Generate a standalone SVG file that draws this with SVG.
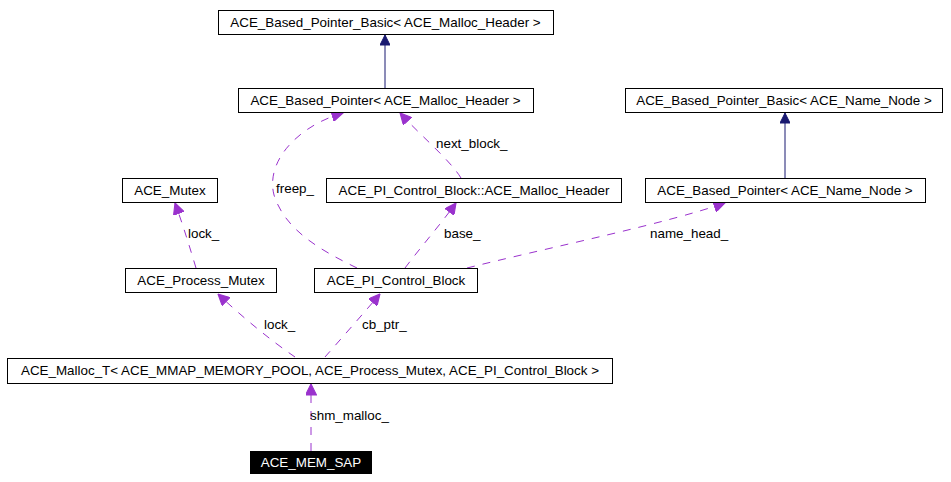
<svg xmlns="http://www.w3.org/2000/svg" width="951" height="482" viewBox="0 0 951 482">
<style>
  .box { fill: #ffffff; stroke: #000000; stroke-width: 1; }
  .t { font-family: "Liberation Sans", Arial, sans-serif; font-size: 13.4px; fill: #000000; text-anchor: middle; }
  .lbl { font-family: "Liberation Sans", Arial, sans-serif; font-size: 13.4px; fill: #000000; }
  .inh { fill: none; stroke: #191970; stroke-width: 1; }
  .use { fill: none; stroke: #9a32cd; stroke-width: 1; stroke-dasharray: 8,8; }
</style>
<defs>
  <marker id="ah" viewBox="0 0 10 10" refX="10" refY="5" markerWidth="11" markerHeight="10" markerUnits="userSpaceOnUse" orient="auto">
    <path d="M0,0 L10,5 L0,10 z" fill="#191970" stroke="#191970"/>
  </marker>
  <marker id="ap" viewBox="0 0 10 10" refX="10" refY="5" markerWidth="12" markerHeight="11" markerUnits="userSpaceOnUse" orient="auto">
    <path d="M0,0 L10,5 L0,10 z" fill="#9a32cd" stroke="#9a32cd"/>
  </marker>
</defs>
<rect width="951" height="482" fill="#ffffff"/>
<g id="connectors">
  <line class="inh" x1="385" y1="88" x2="385" y2="35" marker-end="url(#ah)"/>
  <line class="inh" x1="785" y1="178" x2="785" y2="113" marker-end="url(#ah)"/>
  <path class="use" d="M357,268 C320,250 285,230 274,195 C265,160 300,125 343,113" marker-end="url(#ap)"/>
  <path class="use" d="M461,178 C450,160 420,135 400,113" marker-end="url(#ap)"/>
  <path class="use" d="M405,268 C420,248 440,225 456,203" marker-end="url(#ap)"/>
  <path class="use" d="M467,268 C560,245 660,225 725,203" marker-end="url(#ap)"/>
  <path class="use" d="M196,268 C190,248 183,225 175,203" marker-end="url(#ap)"/>
  <path class="use" d="M295,357 C270,340 240,315 218,294" marker-end="url(#ap)"/>
  <path class="use" d="M325,357 C340,340 362,315 380,294" marker-end="url(#ap)"/>
  <line class="use" x1="311" y1="451" x2="311" y2="384" marker-end="url(#ap)"/>
  <text class="lbl" x="276" y="193">freep_</text>
  <text class="lbl" x="436" y="148">next_block_</text>
  <text class="lbl" x="188" y="238">lock_</text>
  <text class="lbl" x="444" y="238">base_</text>
  <text class="lbl" x="650" y="238">name_head_</text>
  <text class="lbl" x="264" y="329">lock_</text>
  <text class="lbl" x="362" y="329">cb_ptr_</text>
  <text class="lbl" x="310" y="420">shm_malloc_</text>
</g>
<g id="n1"><rect class="box" x="218.5" y="10.5" width="335" height="24"/><text class="t" x="385.5" y="27">ACE_Based_Pointer_Basic&lt; ACE_Malloc_Header &gt;</text></g>
<g id="n2"><rect class="box" x="238.5" y="88.5" width="295" height="24"/><text class="t" x="385.5" y="105">ACE_Based_Pointer&lt; ACE_Malloc_Header &gt;</text></g>
<g id="n3"><rect class="box" x="625.5" y="88.5" width="317" height="24"/><text class="t" x="784" y="105">ACE_Based_Pointer_Basic&lt; ACE_Name_Node &gt;</text></g>
<g id="n4"><rect class="box" x="122.5" y="178.5" width="95" height="24"/><text class="t" x="170" y="195">ACE_Mutex</text></g>
<g id="n5"><rect class="box" x="326.5" y="178.5" width="295" height="24"/><text class="t" x="474" y="195">ACE_PI_Control_Block::ACE_Malloc_Header</text></g>
<g id="n6"><rect class="box" x="645.5" y="178.5" width="280" height="24"/><text class="t" x="785" y="195">ACE_Based_Pointer&lt; ACE_Name_Node &gt;</text></g>
<g id="n7"><rect class="box" x="125.5" y="268.5" width="151" height="24"/><text class="t" x="201" y="285">ACE_Process_Mutex</text></g>
<g id="n8"><rect class="box" x="314.5" y="268.5" width="163" height="24"/><text class="t" x="396" y="285">ACE_PI_Control_Block</text></g>
<g id="n9"><rect class="box" x="7.5" y="358.5" width="605" height="25"/><text class="t" x="310" y="375">ACE_Malloc_T&lt; ACE_MMAP_MEMORY_POOL, ACE_Process_Mutex, ACE_PI_Control_Block &gt;</text></g>
<g id="n10"><rect x="250" y="451" width="122" height="23" fill="#000000"/><text class="t" x="311" y="467" style="fill:#ffffff">ACE_MEM_SAP</text></g>
</svg>
